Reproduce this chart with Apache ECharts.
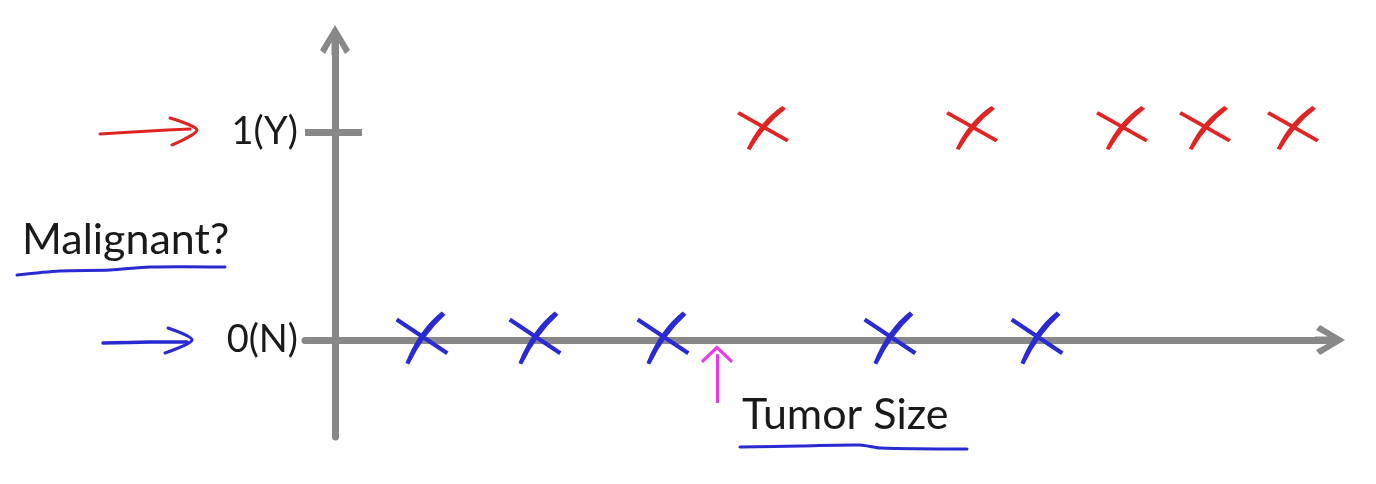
<!DOCTYPE html>
<html>
<head>
<meta charset="utf-8">
<script src="https://cdn.jsdelivr.net/npm/echarts@6/dist/echarts.min.js"></script>
<style>
html,body{margin:0;padding:0;background:#fff;}
#chart{width:1376px;height:484px;}
</style>
</head>
<body>
<div id="chart"></div>
<script>
// ---- data ----
const benignTumorSize = [0.87, 2.0, 3.28, 5.55, 7.02];      // Malignant = 0 (N)
const malignantTumorSize = [4.28, 6.37, 7.87, 8.70, 9.58];  // Malignant = 1 (Y)
const yTickValues = [0, 1];
const yTickLabels = ['0(N)', '1(Y)'];
const thresholdSize = [3.82];
const xAxisTitle = 'Tumor Size';
const yAxisTitle = 'Malignant?';

// ---- styles ----
const GRAY = '#888888';
const BLUE = '#2a2ad2';
const RED = '#e02424';
const PINK = '#e63ce6';
const FONT = 'Lato';
const TEXT = '#1a1a1a';

const chevron = 'path://M15,0 L30,25 L25,29 L15,11 L5,29 L0,25 Z M11.5,8 L18.5,8 L18.5,30 L11.5,30 Z';
const thinChevron = 'path://M18,0 L36,17 L34,20 L18,5 L2,20 L0,17 Z';
const cross = 'path://M4.7,11.7 L99.7,74.7 L95.3,81.3 L0.3,18.3 Z M94,6 Q53,43 26,99 L19,96 Q44,34 87,0 Z';

const chart = echarts.init(document.getElementById('chart'), null, {renderer: 'canvas'});

const option = {
  animation: false,
  backgroundColor: '#ffffff',
  grid: {left: 305, right: 46, top: 40, bottom: 47, containLabel: false, outerBoundsMode: 'none'},
  xAxis: {
    type: 'value', min: -0.3, max: 9.95,
    axisLine: {onZero: true, lineStyle: {color: GRAY, width: 7},
      symbol: ['none', chevron], symbolSize: [30, 30]},
    axisTick: {show: false}, axisLabel: {show: false}, splitLine: {show: false}
  },
  yAxis: {
    type: 'value', min: -0.4663, max: 1.4423,
    axisLine: {onZero: true, lineStyle: {color: GRAY, width: 7},
      symbol: ['none', chevron], symbolSize: [30, 30]},
    axisTick: {show: false}, splitLine: {show: false},
    axisLabel: {
      customValues: yTickValues,
      formatter: v => yTickLabels[yTickValues.indexOf(v)],
      fontFamily: FONT, fontSize: 38, color: TEXT, margin: 7
    }
  },
  series: [
    {
      name: 'benign', type: 'scatter',
      data: benignTumorSize.map(x => [x, 0]),
      symbol: cross, symbolSize: [53, 53], symbolOffset: [0, -2],
      itemStyle: {color: BLUE, opacity: 1}, z: 5,
      markLine: {
        silent: true, animation: false,
        symbol: ['none', thinChevron], symbolSize: [32, 18],
        label: {show: false},
        lineStyle: {color: PINK, width: 3, type: 'solid', opacity: 1},
        data: thresholdSize.map(x => [{coord: [x, -0.303]}, {coord: [x, -0.068]}])
      }
    },
    {
      name: 'malignant', type: 'scatter',
      data: malignantTumorSize.map(x => [x, 1]),
      symbol: cross, symbolSize: [52, 44], symbolOffset: [0, -4],
      itemStyle: {color: RED, opacity: 1}, z: 5,
      markLine: {
        silent: true, animation: false, symbol: ['none', 'none'],
        label: {show: false},
        lineStyle: {color: GRAY, width: 7, type: 'solid', opacity: 1},
        data: [[{coord: [-0.3, 1]}, {coord: [0.27, 1]}]]
      }
    }
  ]
};
chart.setOption(option);

// axis titles and hand-drawn annotations placed relative to the axes
const y1 = chart.convertToPixel({yAxisIndex: 0}, 1);
const y0 = chart.convertToPixel({yAxisIndex: 0}, 0);
const line = (pts, color, w) => ({
  type: 'polyline', silent: true, z: 10,
  shape: {points: pts, smooth: 0.3},
  style: {stroke: color, lineWidth: w, fill: null, lineCap: 'round', lineJoin: 'round'}
});
const label = (text, x, y) => ({
  type: 'text', silent: true, z: 10, x: x, y: y,
  style: {text: text, font: '43px Lato', fill: TEXT, textAlign: 'left', textVerticalAlign: 'middle'}
});
chart.setOption({
  graphic: [
    label(yAxisTitle, 22, 240),
    label(xAxisTitle, 742, 415),
    line([[100, y1 + 2], [150, y1 - 1], [190, y1 - 3]], RED, 3),
    line([[170, y1 - 14], [197, y1 - 2], [172, y1 + 13]], RED, 3),
    line([[103, y0 + 3], [150, y0 + 2], [187, y0 + 2]], BLUE, 3.5),
    line([[168, y0 - 12], [192, y0], [165, y0 + 13]], BLUE, 3),
    line([[17, 275], [60, 271], [110, 270], [150, 267], [225, 267]], BLUE, 3),
    line([[740, 447], [800, 446], [860, 445], [880, 448], [967, 449]], BLUE, 3)
  ]
});
</script>
</body>
</html>
